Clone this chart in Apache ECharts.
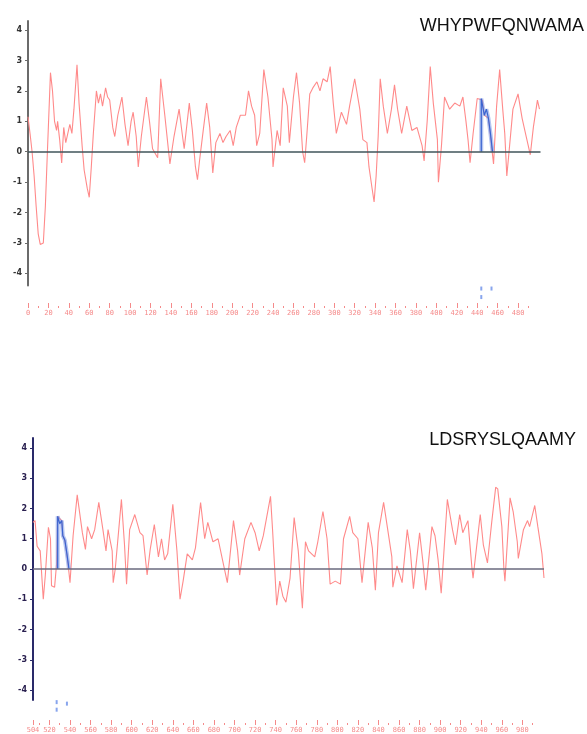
<!DOCTYPE html>
<html><head><meta charset="utf-8">
<script src="https://cdn.jsdelivr.net/npm/echarts@6/dist/echarts.min.js"></script>
<style>html,body{margin:0;padding:0;background:#fff}#c{width:587px;height:734px}</style>
</head><body><div id="c"></div>
<script>
// ---- panel 1 (residues 0..502) ----
const topTitle = 'WHYPWFQNWAMA';
const topRes = [0,2,4,6,8,10,12,15,17,19,22,24,26,28,29,31,33,35,37,39,41,43,45,48,50,53,55,58,60,62,64,67,69,71,73,76,78,80,83,85,88,92,95,98,101,103,106,108,111,116,119,122,127,130,134,139,143,148,151,153,158,161,164,166,168,172,175,178,181,184,188,191,194,198,201,204,208,213,216,219,222,224,227,231,235,239,240,244,247,250,254,256,260,263,266,269,271,273,276,279,283,286,289,293,296,299,302,307,312,315,320,325,328,332,334,337,339,341,343,345,348,352,356,359,362,366,371,376,381,386,388,391,394,397,401,402,405,408,413,418,423,426,429,431,433,436,440,445,447,451,454,456,459,462,465,467,469,472,475,480,484,488,490,492,495,499,501];
const topVal = [1.15,0.6,0.0,-0.8,-1.8,-2.7,-3.05,-3.0,-1.8,0.0,2.6,2.0,1.0,0.7,1.0,0.4,-0.37,0.8,0.3,0.6,0.9,0.6,1.4,2.86,1.6,0.2,-0.6,-1.2,-1.5,-0.5,0.6,2.0,1.6,1.9,1.5,2.1,1.8,1.7,0.8,0.5,1.2,1.8,0.9,0.2,1.0,1.3,0.5,-0.5,0.5,1.8,1.0,0.1,-0.2,2.4,1.2,-0.4,0.5,1.4,0.6,0.1,1.6,0.7,-0.5,-0.92,-0.3,0.8,1.6,0.8,-0.7,0.3,0.6,0.3,0.5,0.7,0.2,0.8,1.2,1.2,2.0,1.5,1.2,0.2,0.6,2.7,1.8,0.4,-0.5,0.7,0.2,2.1,1.5,0.3,1.8,2.6,1.6,0.0,-0.36,0.5,1.9,2.1,2.3,2.0,2.4,2.3,2.8,1.6,0.6,1.3,0.9,1.5,2.4,1.4,0.4,0.3,-0.5,-1.2,-1.65,-0.8,0.5,2.4,1.5,0.6,1.4,2.2,1.4,0.6,1.5,0.7,0.8,0.2,-0.3,1.0,2.8,1.6,0.4,-1.0,0.2,1.8,1.4,1.6,1.5,1.8,1.0,0.4,-0.36,0.6,1.75,1.7,1.2,1.1,0.2,-0.4,1.5,2.7,1.4,0.6,-0.8,0.3,1.4,1.9,1.1,0.5,0.2,-0.1,0.8,1.7,1.4];
const topEpiRes = [444,444,445,447,449,451,453,455];
const topEpiVal = [0,1.75,1.7,1.2,1.4,1.1,0.6,0];
const topMarkRes = [444,444,454];
const topMarkVal = [-4.5,-4.78,-4.5];
const topLabels = [0,20,40,60,80,100,120,140,160,180,200,220,240,260,280,300,320,340,360,380,400,420,440,460,480];
const topMinor = [10,30,50,70,90,110,130,150,170,190,210,230,250,270,290,310,330,350,370,390,410,430,450,470,490];

// ---- panel 2 (residues 504..1001) ----
const botTitle = 'LDSRYSLQAAMY';
const botRes = [504,506,508,511,514,516,519,521,522,525,527,528,532,533,535,538,540,543,547,552,555,557,561,564,568,572,575,577,581,582,584,590,593,595,598,603,608,611,615,618,622,626,629,632,635,640,644,647,650,654,659,662,667,671,674,679,684,688,693,699,703,705,710,716,720,724,728,735,737,741,744,747,750,754,758,762,766,769,772,778,781,786,790,793,798,803,806,812,815,820,824,830,834,837,840,845,849,853,854,858,863,868,871,874,880,883,886,892,895,898,901,907,912,915,919,922,927,931,932,939,942,946,950,954,956,960,962,963,968,971,975,976,981,985,987,992,995,999,1001];
const botVal = [1.54,1.6,0.75,0.6,-1.0,-0.2,1.38,1.0,-0.55,-0.6,0.2,1.74,1.6,1.1,0.95,0.2,-0.45,1.1,2.45,1.2,0.65,1.4,1.0,1.3,2.2,1.3,0.6,1.3,0.6,-0.45,0.0,2.3,0.8,-0.5,1.3,1.8,1.2,1.1,-0.2,0.65,1.47,0.4,1.0,0.3,0.5,2.14,0.6,-1.0,-0.4,0.5,0.3,0.7,2.2,1.0,1.54,0.9,1.0,0.35,-0.45,1.6,0.6,-0.2,1.0,1.54,1.2,0.6,1.1,2.4,1.3,-1.2,-0.4,-0.9,-1.1,-0.3,1.7,0.6,-1.3,0.9,0.6,0.4,0.9,1.9,1.0,-0.5,-0.4,-0.5,1.0,1.74,1.2,1.0,-0.45,1.54,0.7,-0.7,1.2,2.2,1.3,0.4,-0.6,0.1,-0.45,1.3,0.6,-0.65,1.2,0.3,-0.7,1.4,1.1,0.3,-0.8,2.3,1.3,0.8,1.8,1.2,1.6,0.0,-0.3,1.8,0.8,0.2,1.5,2.7,2.65,1.4,0.0,-0.4,2.35,1.9,0.9,0.35,1.3,1.6,1.4,2.1,1.4,0.5,-0.3];
const botEpiRes = [528,528,530,532,533,535,537,539];
const botEpiVal = [0,1.74,1.5,1.6,1.1,0.95,0.5,0];
const botMarkRes = [527,527,537];
const botMarkVal = [-4.4,-4.65,-4.45];
const botLabels = [504,520,540,560,580,600,620,640,660,680,700,720,740,760,780,800,820,840,860,880,900,920,940,960,980];
const botMinor = [510,530,550,570,590,610,630,650,670,690,710,730,750,770,790,810,830,850,870,890,910,930,950,970,990];
const yTicks = [-4,-3,-2,-1,0,1,2,3,4];

const zip = (a,b) => a.map((x,i)=>[x,b[i]]);
const pink = '#f58a8a';

function xMajor(grid,min,max,labels,offset){
  return {type:'value',gridIndex:grid,min:min,max:max,position:'bottom',offset:offset,
    axisLine:{show:false,onZero:false},splitLine:{show:false},
    axisTick:{show:true,inside:true,length:5,customValues:labels,lineStyle:{color:pink,width:1}},
    axisLabel:{show:true,customValues:labels,margin:2,fontSize:7,color:pink,fontFamily:'DejaVu Sans Mono'}};
}
function xMinor(grid,min,max,ticks,offset){
  return {type:'value',gridIndex:grid,min:min,max:max,position:'bottom',offset:offset,
    axisLine:{show:false,onZero:false},splitLine:{show:false},axisLabel:{show:false},
    axisTick:{show:true,inside:true,length:2,customValues:ticks,lineStyle:{color:pink,width:1}}};
}
function yAx(grid,min,max,lineColor,labelColor){
  return {type:'value',gridIndex:grid,min:min,max:max,position:'left',
    axisLine:{show:true,onZero:false,lineStyle:{color:lineColor,width:2}},
    axisTick:{show:true,length:3,customValues:yTicks,lineStyle:{color:lineColor}},
    axisLabel:{customValues:yTicks,margin:6,fontSize:8,fontWeight:'bold',color:labelColor,fontFamily:'DejaVu Sans'},
    splitLine:{show:false}};
}
function zeroLine(color){
  return {silent:true,symbol:'none',label:{show:false},lineStyle:{color:color,width:1.5,type:'solid'},data:[{yAxis:0}]};
}

const chart = echarts.init(document.getElementById('c'),null,{renderer:'canvas'});
chart.setOption({
  animation:false,
  backgroundColor:'#fff',
  title:[
    {text:topTitle,right:-2,top:12,textStyle:{fontSize:18,fontWeight:'normal',color:'#111',fontFamily:'Liberation Sans'}},
    {text:botTitle,right:6,top:426,textStyle:{fontSize:18,fontWeight:'normal',color:'#111',fontFamily:'Liberation Sans'}}
  ],
  grid:[
    {left:28,top:21,width:512.5,height:264.5},
    {left:33,top:438,width:511,height:264}
  ],
  xAxis:[
    xMajor(0,0,502,topLabels,22.5),
    xMinor(0,0,502,topMinor,22.5),
    xMajor(1,504,1001,botLabels,25),
    xMinor(1,504,1001,botMinor,25)
  ],
  yAxis:[
    yAx(0,-4.4,4.3,'#6b6b6b','#333'),
    yAx(1,-4.33,4.33,'#2a2a6a','#2a2050')
  ],
  series:[
    {type:'line',xAxisIndex:0,yAxisIndex:0,data:zip(topRes,topVal),symbol:'none',
      lineStyle:{color:'#ff8a8a',width:1.1},markLine:zeroLine('#41545a'),z:2},
    {type:'line',xAxisIndex:0,yAxisIndex:0,data:zip(topEpiRes,topEpiVal),symbol:'none',
      lineStyle:{color:'rgba(120,150,230,0.55)',width:4},z:3},
    {type:'line',xAxisIndex:0,yAxisIndex:0,data:zip(topEpiRes,topEpiVal),symbol:'none',
      lineStyle:{color:'#3a64d0',width:1.2},z:4},
    {type:'scatter',xAxisIndex:0,yAxisIndex:0,data:zip(topMarkRes,topMarkVal),clip:false,
      symbol:'rect',symbolSize:[2,4],itemStyle:{color:'#6a8ee8'}},
    {type:'line',xAxisIndex:2,yAxisIndex:1,data:zip(botRes,botVal),symbol:'none',
      lineStyle:{color:'#ff8a8a',width:1.1},markLine:zeroLine('#6a6a7e'),z:2},
    {type:'line',xAxisIndex:2,yAxisIndex:1,data:zip(botEpiRes,botEpiVal),symbol:'none',
      lineStyle:{color:'rgba(120,150,230,0.55)',width:4},z:3},
    {type:'line',xAxisIndex:2,yAxisIndex:1,data:zip(botEpiRes,botEpiVal),symbol:'none',
      lineStyle:{color:'#3a64d0',width:1.2},z:4},
    {type:'scatter',xAxisIndex:2,yAxisIndex:1,data:zip(botMarkRes,botMarkVal),clip:false,
      symbol:'rect',symbolSize:[2,4],itemStyle:{color:'#6a8ee8'}}
  ]
});
</script></body></html>
